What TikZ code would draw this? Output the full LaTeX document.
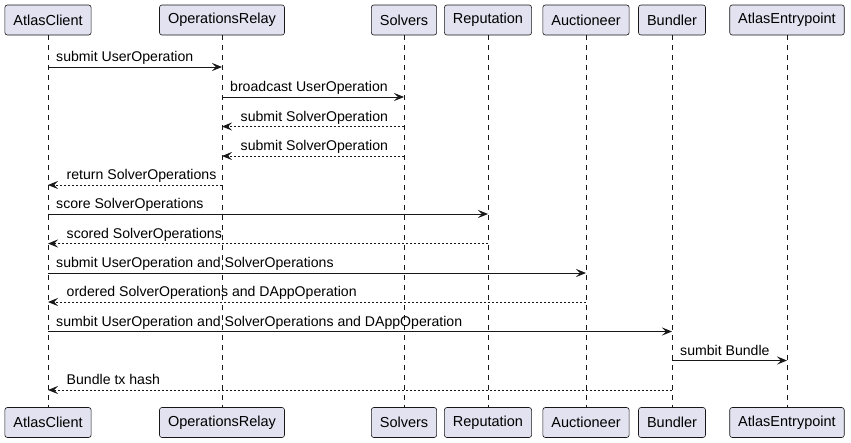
\documentclass[tikz,border=0pt]{standalone}
\usepackage{fontspec}
\setmainfont{Liberation Sans}
\usetikzlibrary{arrows.meta}
\definecolor{partfill}{HTML}{E2E2F0}
\definecolor{ink}{HTML}{181818}
\tikzset{
  part/.style={draw=ink, fill=partfill, rounded corners=2.5pt, line width=0.6pt,
    minimum height=30pt, inner xsep=8.5pt, inner ysep=0pt, text=black,
    font=\fontsize{14.5}{17}\selectfont},
  life/.style={draw=ink, line width=0.6pt, dash pattern=on 5pt off 5pt},
  call/.style={draw=ink, line width=0.9pt, -{Stealth[length=10pt,width=8pt,inset=4pt]}},
  reply/.style={call, dash pattern=on 2pt off 2pt},
  lbl/.style={inner sep=0pt, text=black, font=\fontsize{14.1}{16}\selectfont},
}
\newcommand\callmsg[5]{%
  \coordinate (#1s) at (#2T |- 0,#4);
  \coordinate (#1t) at (#3T |- 0,#4);
  \draw[call] (#1s) -- (#1t);
  \node[lbl, anchor=base west] (#1l) at ([xshift=8pt, yshift=5.5pt]#1s) {#5};
}
\newcommand\replymsg[5]{%
  \coordinate (#1s) at (#2T |- 0,#4);
  \coordinate (#1t) at (#3T |- 0,#4);
  \draw[reply] (#1s) -- (#1t);
  \node[lbl, anchor=base west] (#1l) at ([xshift=18.5pt, yshift=5.5pt]#1t) {#5};
}
\begin{document}
\begin{tikzpicture}[x=1pt, y=-1pt]
  \useasboundingbox[fill=white] (0,0) rectangle (851,442);
  % participants (top and bottom)
  \foreach \id/\x/\name in {ac/48/AtlasClient, or/222/OperationsRelay, sv/404/Solvers,
      rp/488/Reputation, au/586/Auctioneer, bu/672/Bundler, ae/787/AtlasEntrypoint}{
    \node[part] (\id T) at (\x,20) {\name};
    \node[part] (\id B) at (\x,422.5) {\name};
    \draw[life] (\id T.south) -- (\id B.north);
  }
  % messages
  \callmsg{m1}{ac}{or}{67}{submit UserOperation}
  \callmsg{m2}{or}{sv}{97}{broadcast UserOperation}
  \replymsg{m3}{sv}{or}{126.5}{submit SolverOperation}
  \replymsg{m4}{sv}{or}{156}{submit SolverOperation}
  \replymsg{m5}{or}{ac}{185}{return SolverOperations}
  \callmsg{m6}{ac}{rp}{214}{score SolverOperations}
  \replymsg{m7}{rp}{ac}{243.5}{scored SolverOperations}
  \callmsg{m8}{ac}{au}{273}{submit UserOperation and SolverOperations}
  \replymsg{m9}{au}{ac}{302}{ordered SolverOperations and DAppOperation}
  \callmsg{m10}{ac}{bu}{331.5}{sumbit UserOperation and SolverOperations and DAppOperation}
  \callmsg{m11}{bu}{ae}{360.5}{sumbit Bundle}
  \replymsg{m12}{bu}{ac}{390}{Bundle tx hash}
\end{tikzpicture}
\end{document}
